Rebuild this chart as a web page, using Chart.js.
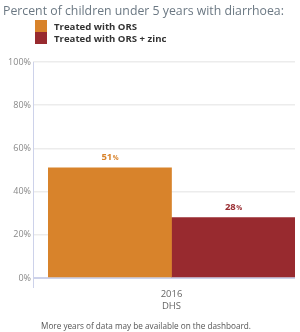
<!DOCTYPE html>
<html>
<head>
<meta charset="utf-8">
<script src="https://cdn.jsdelivr.net/npm/chart.js@4.4.0/dist/chart.umd.min.js"></script>
<style>
  body { margin: 0; background: #fff; font-family: 'Open Sans', sans-serif; }
  #wrap { position: relative; width: 300px; height: 332px; overflow: hidden; }
  #wrap canvas { position: absolute; left: 0; top: 0; }
  .title { position: absolute; left: 3px; top: 2px; font-size: 12.3px; color: #6b7883; white-space: nowrap; }
  .legend { position: absolute; left: 35px; top: 20px; }
  .legend-item { display: flex; align-items: center; height: 12px; font-size: 9.6px; font-weight: 700; color: #333; white-space: nowrap; }
  .legend-item span.sw { width: 12px; height: 12px; margin-right: 7px; flex-shrink: 0; }
  .footer { position: absolute; left: 0; width: 292px; top: 320px; line-height: 12px; text-align: center; font-size: 8.2px; color: #555; white-space: nowrap; }
</style>
</head>
<body>
<div id="wrap">
  <canvas id="chart" width="300" height="332"></canvas>
  <div class="title">Percent of children under 5 years with diarrhoea:</div>
  <div class="legend" id="legend"></div>
  <div class="footer">More years of data may be available on the dashboard.</div>
</div>
<script>
// data
const categories = [['2016', 'DHS']];
const seriesNames = ['Treated with ORS', 'Treated with ORS + zinc'];
const orsValues = [51];
const orsZincValues = [28];
const yTicks = [0, 20, 40, 60, 80, 100];
const seriesColors = ['#d8832b', '#982a2f'];

const gridGray = '#ececec';
const axisBlue = '#cdd2ea';

// html legend
document.getElementById('legend').innerHTML = seriesNames.map((n, i) =>
  `<div class="legend-item"><span class="sw" style="background:${seriesColors[i]}"></span>${n}</div>`
).join('');

// value labels above bars, small % sign
const valueLabels = {
  id: 'valueLabels',
  afterDatasetsDraw(chart) {
    const ctx = chart.ctx;
    chart.data.datasets.forEach((ds, di) => {
      chart.getDatasetMeta(di).data.forEach((bar, i) => {
        const num = String(ds.data[i]);
        ctx.save();
        ctx.font = 'bold 9.5px "Open Sans"';
        const w1 = ctx.measureText(num).width;
        ctx.font = 'bold 6.5px "Open Sans"';
        const w2 = ctx.measureText('%').width;
        const x0 = bar.x - (w1 + w2) / 2;
        const y = bar.y - 8;
        ctx.fillStyle = ds.backgroundColor;
        ctx.textAlign = 'left';
        ctx.font = 'bold 9.5px "Open Sans"';
        ctx.fillText(num, x0, y);
        ctx.font = 'bold 6.5px "Open Sans"';
        ctx.fillText('%', x0 + w1 + 0.5, y);
        ctx.restore();
      });
    });
  }
};

// vertical axis line left of the tick marks
const yAxisLine = {
  id: 'yAxisLine',
  beforeDatasetsDraw(chart) {
    const { ctx, chartArea } = chart;
    const x = chartArea.left - 14.5;
    ctx.save();
    ctx.strokeStyle = axisBlue;
    ctx.lineWidth = 1;
    ctx.beginPath();
    ctx.moveTo(x, chartArea.top);
    ctx.lineTo(x, chartArea.bottom + 10);
    ctx.stroke();
    ctx.restore();
  }
};

new Chart(document.getElementById('chart'), {
  type: 'bar',
  data: {
    labels: categories,
    datasets: [
      { label: seriesNames[0], data: orsValues, backgroundColor: seriesColors[0] },
      { label: seriesNames[1], data: orsZincValues, backgroundColor: seriesColors[1] }
    ]
  },
  options: {
    responsive: false,
    animation: false,
    layout: { padding: { top: 62, right: 5, bottom: 0, left: 0 } },
    plugins: { legend: { display: false }, tooltip: { enabled: false } },
    datasets: { bar: { categoryPercentage: 1, barPercentage: 1 } },
    scales: {
      x: {
        afterFit: s => { s.height = 54; },
        grid: { display: false, drawTicks: false },
        border: { display: false },
        ticks: { color: '#666', padding: 10, font: { family: 'Open Sans', size: 9.5, lineHeight: 1.3 } }
      },
      y: {
        min: 0, max: 100,
        afterFit: s => { s.width = 48; },
        afterBuildTicks: s => { s.ticks = yTicks.map(v => ({ value: v })); },
        border: { display: false },
        grid: {
          color: c => c.tick && c.tick.value === 0 ? axisBlue : gridGray,
          lineWidth: c => c.tick && c.tick.value === 0 ? 2 : 1.5,
          tickLength: 15,
          tickColor: c => c.tick && c.tick.value === 0 ? axisBlue : gridGray
        },
        ticks: { color: '#888', padding: 2, callback: v => v + '%', font: { family: 'Open Sans', size: 9 } }
      }
    }
  },
  plugins: [valueLabels, yAxisLine]
});
</script>
</body>
</html>
